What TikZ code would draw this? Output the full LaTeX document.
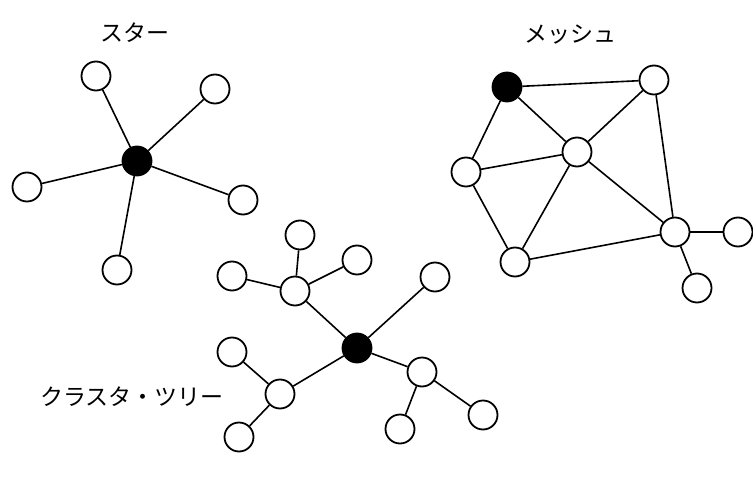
\documentclass[tikz,border=0pt]{standalone}
\usepackage{fontspec}
\newfontfamily\jp{Noto Sans CJK JP}
\begin{document}
\begin{tikzpicture}[x=1pt,y=-1pt,
  nd/.style={circle,draw=black,line width=1.8pt,fill=white,minimum size=29pt,inner sep=0pt},
  hub/.style={nd,fill=black},
  lnk/.style={line width=1.6pt},
  lbl/.style={font=\jp\fontsize{23}{25}\selectfont,inner sep=0pt}]
\useasboundingbox (0,0) rectangle (753,479);
% star
\node[hub] (s0) at (137,161) {};
\node[nd] (s1) at (96,76) {};
\node[nd] (s2) at (215,89) {};
\node[nd] (s3) at (27,187) {};
\node[nd] (s4) at (243,200) {};
\node[nd] (s5) at (117,270) {};
\foreach \i in {1,...,5} \draw[lnk] (s0) -- (s\i);
\node[lbl] (ls) at (135,33) {スター};
% mesh
\node[hub] (m0) at (507,87) {};
\node[nd] (m1) at (654,80) {};
\node[nd] (m2) at (577,152) {};
\node[nd] (m3) at (466,172) {};
\node[nd] (m4) at (515,262) {};
\node[nd] (m5) at (675,232) {};
\node[nd] (m6) at (738,232) {};
\node[nd] (m7) at (697,288) {};
\draw[lnk] (m0) -- (m1);
\draw[lnk] (m0) -- (m2);
\draw[lnk] (m0) -- (m3);
\draw[lnk] (m3) -- (m2);
\draw[lnk] (m3) -- (m4);
\draw[lnk] (m4) -- (m2);
\draw[lnk] (m4) -- (m5);
\draw[lnk] (m2) -- (m1);
\draw[lnk] (m2) -- (m5);
\draw[lnk] (m1) -- (m5);
\draw[lnk] (m5) -- (m6);
\draw[lnk] (m5) -- (m7);
\node[lbl] (lm) at (570,35) {メッシュ};
% cluster tree
\node[hub] (c0) at (357,348) {};
\node[nd] (ca) at (295,291) {};
\node[nd] (ca1) at (300,235) {};
\node[nd] (ca2) at (232,276) {};
\node[nd] (ca3) at (357,260) {};
\node[nd] (cb) at (435,277) {};
\node[nd] (cc) at (280,394) {};
\node[nd] (cc1) at (232,352) {};
\node[nd] (cc2) at (239,437) {};
\node[nd] (cd) at (422,372) {};
\node[nd] (cd1) at (400,429) {};
\node[nd] (cd2) at (483,415) {};
\draw[lnk] (c0) -- (ca);
\draw[lnk] (c0) -- (cb);
\draw[lnk] (c0) -- (cc);
\draw[lnk] (c0) -- (cd);
\draw[lnk] (ca) -- (ca1);
\draw[lnk] (ca) -- (ca2);
\draw[lnk] (ca) -- (ca3);
\draw[lnk] (cc) -- (cc1);
\draw[lnk] (cc) -- (cc2);
\draw[lnk] (cd) -- (cd1);
\draw[lnk] (cd) -- (cd2);
\node[lbl] (lc) at (132,397) {クラスタ・ツリー};
\end{tikzpicture}
\end{document}
